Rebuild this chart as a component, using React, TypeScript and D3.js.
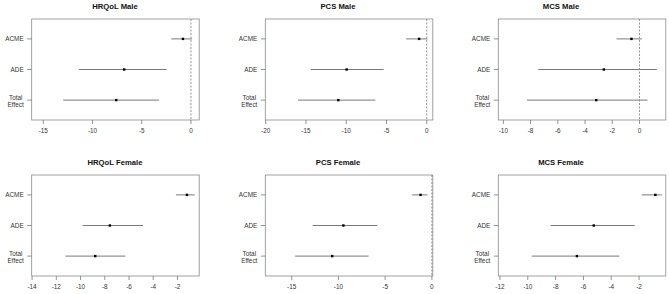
import React from "react";
import * as d3 from "d3";

const effects = ["ACME", "ADE", "Total Effect"];

const titles = [
  "HRQoL Male",
  "PCS Male",
  "MCS Male",
  "HRQoL Female",
  "PCS Female",
  "MCS Female",
];

// point estimates, per panel: ACME, ADE, Total Effect
const estimates = [
  [-0.81, -6.78, -7.59],
  [-0.95, -9.95, -10.98],
  [-0.59, -2.62, -3.18],
  [-1.22, -7.58, -8.79],
  [-1.21, -9.47, -10.67],
  [-0.83, -5.26, -6.47],
];

const lowerCI = [
  [-2.0, -11.38, -12.98],
  [-2.56, -14.4, -15.99],
  [-1.69, -7.43, -8.26],
  [-2.13, -9.83, -11.25],
  [-2.11, -12.77, -14.64],
  [-1.81, -8.37, -9.72],
];

const upperCI = [
  [0.13, -2.47, -3.25],
  [0.09, -5.35, -6.38],
  [0.17, 1.27, 0.59],
  [-0.58, -4.85, -6.3],
  [-0.46, -5.85, -6.77],
  [-0.37, -2.31, -3.42],
];

const xLimits: [number, number][] = [
  [-16.18, 0.84],
  [-20.05, 0.75],
  [-10.37, 1.93],
  [-14.03, -0.21],
  [-17.83, 0.1],
  [-12.12, -0.08],
];

const xTicks = [
  [-15, -10, -5, 0],
  [-20, -15, -10, -5, 0],
  [-10, -8, -6, -4, -2, 0],
  [-14, -12, -10, -8, -6, -4, -2],
  [-15, -10, -5, 0],
  [-12, -10, -8, -6, -4, -2],
];

const W = 669;
const H = 294;
const colLeft = [31.7, 265.3, 498.3];
const colCenter = [115, 338, 561];
const boxW = 167.5;
const rowTop = [19, 175];
const boxH = 101;
const font = "Liberation Sans, Arial, sans-serif";

function Panel({ i }: { i: number }) {
  const col = i % 3;
  const row = Math.floor(i / 3);
  const left = colLeft[col];
  const top = rowTop[row];
  const x = d3.scaleLinear().domain(xLimits[i]).range([left, left + boxW]);
  const y = d3
    .scalePoint<string>()
    .domain(effects)
    .range([top, top + boxH])
    .padding(0.65);
  const bottom = top + boxH;
  const [lo, hi] = xLimits[i];
  return (
    <g>
      <text
        x={colCenter[col]}
        y={top - 10}
        textAnchor="middle"
        fontFamily={font}
        fontWeight="bold"
        fontSize={7.7}
        fill="#111"
      >
        {titles[i]}
      </text>
      <rect
        x={left}
        y={top}
        width={boxW}
        height={boxH}
        fill="none"
        stroke="#8a8a8a"
        strokeWidth={0.8}
      />
      {lo <= 0 && hi >= 0 && (
        <line
          x1={x(0)}
          x2={x(0)}
          y1={top}
          y2={bottom}
          stroke="#777"
          strokeWidth={0.8}
          strokeDasharray="2,1.5"
        />
      )}
      {xTicks[i].map((t) => (
        <g key={t}>
          <line x1={x(t)} x2={x(t)} y1={bottom} y2={bottom + 4} stroke="#777" strokeWidth={0.8} />
          <text
            x={x(t)}
            y={bottom + 13}
            textAnchor="middle"
            fontFamily={font}
            fontSize={6.4}
            fill="#333"
          >
            {t}
          </text>
        </g>
      ))}
      {effects.map((e, k) => {
        const cy = y(e) as number;
        const lines = e === "Total Effect" ? ["Total", "Effect"] : [e];
        const cx = left - 16;
        return (
          <g key={e}>
            <line x1={left - 4.5} x2={left} y1={cy} y2={cy} stroke="#777" strokeWidth={0.8} />
            {lines.length === 1 ? (
              <text
                x={left - 8}
                y={cy + 2.3}
                textAnchor="end"
                fontFamily={font}
                fontSize={6.4}
                fill="#333"
              >
                {e}
              </text>
            ) : (
              lines.map((l, j) => (
                <text
                  key={l}
                  x={cx}
                  y={cy - 0.5 + j * 7}
                  textAnchor="middle"
                  fontFamily={font}
                  fontSize={6.4}
                  fill="#333"
                >
                  {l}
                </text>
              ))
            )}
            <line
              x1={x(lowerCI[i][k])}
              x2={x(upperCI[i][k])}
              y1={cy}
              y2={cy}
              stroke="#7a7a7a"
              strokeWidth={1}
            />
            <rect
              x={x(estimates[i][k]) - 1.2}
              y={cy - 1.2}
              width={2.4}
              height={2.4}
              fill="#000"
            />
          </g>
        );
      })}
    </g>
  );
}

export default function App() {
  return (
    <svg
      width={W}
      height={H}
      style={{ position: "absolute", left: 0, top: 0, background: "#fff" }}
    >
      {titles.map((_, i) => (
        <Panel key={i} i={i} />
      ))}
    </svg>
  );
}
